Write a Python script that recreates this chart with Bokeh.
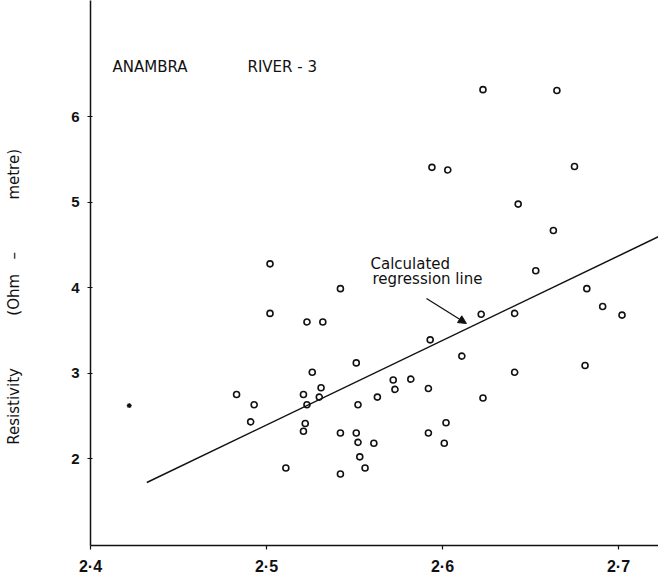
from bokeh.plotting import figure
from bokeh.models import Range1d, FixedTicker, CustomJSTickFormatter, Label, Arrow, NormalHead
from bokeh.embed import file_html
from bokeh.resources import INLINE

# Data
x_values = [2.502, 2.542, 2.502, 2.523, 2.532, 2.551, 2.526, 2.531, 2.483, 2.521,
            2.493, 2.523, 2.530, 2.552, 2.563, 2.572, 2.573, 2.491, 2.522, 2.521,
            2.542, 2.551, 2.552, 2.561, 2.553, 2.556, 2.511, 2.542, 2.623, 2.665,
            2.594, 2.603, 2.675, 2.643, 2.663, 2.653, 2.682, 2.691, 2.702, 2.622,
            2.641, 2.593, 2.611, 2.641, 2.681, 2.582, 2.592, 2.623, 2.602, 2.592,
            2.601]
y_values = [4.28, 3.99, 3.70, 3.60, 3.60, 3.12, 3.01, 2.83, 2.75, 2.75,
            2.63, 2.63, 2.72, 2.63, 2.72, 2.92, 2.81, 2.43, 2.41, 2.32,
            2.30, 2.30, 2.19, 2.18, 2.02, 1.89, 1.89, 1.82, 6.32, 6.31,
            5.41, 5.38, 5.42, 4.98, 4.67, 4.20, 3.99, 3.78, 3.68, 3.69,
            3.70, 3.39, 3.20, 3.01, 3.09, 2.93, 2.82, 2.71, 2.42, 2.30,
            2.18]
star_x = [2.422]
star_y = [2.62]
regression_x = [2.432, 2.73]
regression_y = [1.72, 4.67]
x_ticks = [2.4, 2.5, 2.6, 2.7]
y_ticks = [2, 3, 4, 5, 6]
title_text = ["ANAMBRA", "RIVER - 3"]
annotation_text = ["Calculated", "regression line"]
NB = "\u00a0"
y_label = "Resistivity" + NB * 11 + "(Ohm" + NB * 3 + "\u2013" + NB * 11 + "metre)" + NB * 10

p = figure(width=658, height=577, output_backend="svg", toolbar_location=None,
           x_range=Range1d(2.4, 2.72273), y_range=Range1d(0.982, 7.364),
           min_border_left=90, min_border_right=0, min_border_top=0, min_border_bottom=32)
p.outline_line_color = None
p.xgrid.visible = False
p.ygrid.visible = False
p.background_fill_color = "white"
p.border_fill_color = "white"

for ax in (p.xaxis[0], p.yaxis[0]):
    ax.axis_line_color = "#111111"
    ax.axis_line_width = 1.5
    ax.major_tick_line_color = "#111111"
    ax.major_tick_line_width = 1.2
    ax.minor_tick_line_color = None
    ax.major_label_text_color = "#111111"
    ax.major_label_text_font = "Liberation Sans"
    ax.major_label_text_font_style = "bold"

p.xaxis[0].ticker = FixedTicker(ticks=x_ticks)
p.xaxis[0].formatter = CustomJSTickFormatter(code="return tick.toFixed(1).replace('.', '\u00b7');")
p.xaxis[0].major_tick_out = 4
p.xaxis[0].major_tick_in = 0
p.xaxis[0].major_label_standoff = 8
p.xaxis[0].major_label_text_font_size = "16px"

p.yaxis[0].ticker = FixedTicker(ticks=y_ticks)
p.yaxis[0].major_tick_out = 3
p.yaxis[0].major_tick_in = 2
p.yaxis[0].major_label_standoff = 8
p.yaxis[0].major_label_text_font_size = "15px"
p.yaxis[0].axis_label = y_label
p.yaxis[0].axis_label_text_font = "DejaVu Sans"
p.yaxis[0].axis_label_text_font_size = "15px"
p.yaxis[0].axis_label_text_font_style = "normal"
p.yaxis[0].axis_label_text_color = "#111111"
p.yaxis[0].axis_label_standoff = 45

p.line(regression_x, regression_y, line_color="#111111", line_width=1.5)
p.scatter(x_values, y_values, marker="circle", size=6, fill_color=None,
          line_color="#111111", line_width=1.6)
p.scatter(star_x, star_y, marker="asterisk", size=5, line_color="#111111", line_width=1.2)

p.add_layout(Arrow(end=NormalHead(size=8, fill_color="#111111", line_color="#111111"),
                   x_start=2.5909, y_start=3.875, x_end=2.6136, y_end=3.582,
                   line_color="#111111", line_width=1.3))

p.add_layout(Label(x=2.5591, y=4.378, text=annotation_text[0], text_font="DejaVu Sans",
                   text_font_size="15px", text_baseline="top", text_color="#111111"))
p.add_layout(Label(x=2.5602, y=4.203, text=annotation_text[1], text_font="DejaVu Sans",
                   text_font_size="15px", text_baseline="top", text_color="#111111"))

p.add_layout(Label(x=2.4125, y=6.685, text=title_text[0], text_font="DejaVu Sans",
                   text_font_size="15px", text_baseline="top", text_color="#111111"))
p.add_layout(Label(x=2.4892, y=6.685, text=title_text[1], text_font="DejaVu Sans",
                   text_font_size="15px", text_baseline="top", text_color="#111111"))

open("out.html", "w").write(file_html(p, INLINE))
